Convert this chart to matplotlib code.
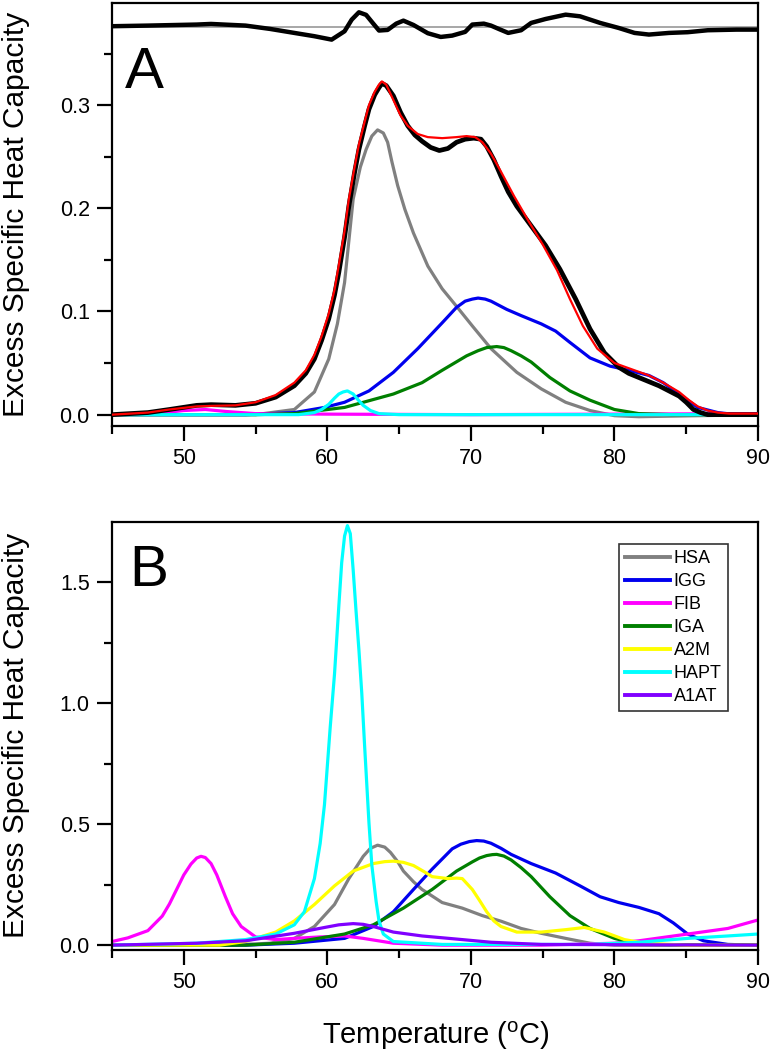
import matplotlib
matplotlib.use("Agg")
import matplotlib.pyplot as plt
from matplotlib.ticker import MultipleLocator

plt.rcParams['font.family'] = ['Liberation Sans', 'DejaVu Sans']
plt.rcParams['mathtext.fontset'] = 'custom'
plt.rcParams['mathtext.rm'] = 'Liberation Sans'

# ---------------- Panel A data ----------------
t_total = [45, 47.5, 49, 50.9, 51.9, 53.6, 55, 56.4, 57.7, 58.5, 59.1, 59.6, 60.1, 60.5, 60.8, 61.2, 61.5,
           61.9, 62.2, 62.6, 62.9, 63.3, 63.6, 63.8, 64.1, 64.6, 65.1, 65.6, 66.1, 66.6, 67.2, 67.8, 68.4,
           69.0, 69.6, 70.2, 70.7, 71.1, 71.6, 72.1, 72.6, 73.2, 74.2, 75.2, 76.2, 77.3, 78.3, 79.3,
           80.3, 81.0, 81.7, 83.1, 84.5, 85.0, 85.5, 86.0, 86.5, 88, 90]
v_total = [0.0, 0.002, 0.005, 0.009, 0.0097, 0.009, 0.011, 0.017, 0.028, 0.040, 0.054, 0.072, 0.093, 0.116,
           0.138, 0.172, 0.202, 0.235, 0.257, 0.280, 0.296, 0.310, 0.317, 0.321, 0.319, 0.309, 0.293,
           0.280, 0.271, 0.265, 0.259, 0.256, 0.258, 0.264, 0.267, 0.268, 0.267, 0.260, 0.247, 0.231,
           0.216, 0.202, 0.183, 0.164, 0.141, 0.112, 0.083, 0.060, 0.046, 0.040, 0.036, 0.028, 0.018,
           0.012, 0.005, 0.002, 0.0, 0.0, 0.0]

t_fit = [45, 47.5, 49, 50.9, 51.9, 53.6, 55, 56.4, 57.7, 58.5, 59.1, 59.6, 60.1, 60.5, 60.8, 61.2, 61.5,
         61.9, 62.2, 62.6, 62.9, 63.3, 63.6, 63.8, 64.1, 64.6, 65.1, 65.6, 66.3, 67.0, 68.0, 69.0,
         69.7, 70.3, 70.8, 71.4, 72.0, 73.0, 74.0, 75.0, 76.0, 76.9, 77.8, 78.8, 80.0, 81.0, 82.4,
         83.4, 84.5, 85.2, 85.8, 86.5, 87.2, 88, 90]
v_fit = [0.0, 0.002, 0.005, 0.008, 0.0085, 0.009, 0.012, 0.019, 0.031, 0.043, 0.058, 0.076, 0.098, 0.121,
         0.145, 0.178, 0.209, 0.240, 0.262, 0.284, 0.300, 0.313, 0.320, 0.323, 0.320, 0.305, 0.290,
         0.280, 0.272, 0.269, 0.268, 0.269, 0.270, 0.269, 0.264, 0.253, 0.238, 0.212, 0.188, 0.165,
         0.140, 0.112, 0.086, 0.064, 0.050, 0.045, 0.038, 0.031, 0.022, 0.014, 0.008, 0.004, 0.002,
         0.001, 0.001]

t_hsa_a = [45, 55, 57.7, 59.1, 60.1, 60.7, 61.2, 61.8, 62.3, 62.7, 63.1, 63.5, 63.9, 64.2, 64.5, 64.9,
           65.4, 66, 66.5, 67, 68, 69, 70.1, 71.4, 73.2, 74.9, 76.6, 78.3, 80, 81.7, 90]
v_hsa_a = [0.0, 0.0, 0.005, 0.022, 0.054, 0.088, 0.128, 0.209, 0.240, 0.257, 0.270, 0.276, 0.273, 0.264,
           0.245, 0.222, 0.199, 0.176, 0.160, 0.144, 0.122, 0.105, 0.086, 0.064, 0.041, 0.025, 0.012,
           0.004, -0.001, -0.002, 0.0]

t_igg_a = [45, 54.3, 57.7, 59.8, 61.2, 62.9, 64.6, 66.3, 68, 69.0, 69.6, 70.1, 70.5, 71.0, 71.4, 72.5,
           73.5, 74.9, 75.9, 76.9, 78.3, 79.7, 81, 82.4, 83.4, 84.5, 85.8, 87.2, 88.5, 90]
v_igg_a = [0.0, 0.0, 0.002, 0.007, 0.012, 0.023, 0.041, 0.064, 0.089, 0.104, 0.110, 0.112, 0.113, 0.112,
           0.110, 0.102, 0.096, 0.088, 0.081, 0.070, 0.055, 0.047, 0.043, 0.038, 0.031, 0.020, 0.007,
           0.002, 0.0, 0.0]

t_fib_a = [45, 48, 50, 51.5, 53, 55, 60, 70, 80, 90]
v_fib_a = [0.0, 0.001, 0.004, 0.005, 0.003, 0.001, 0.0005, 0.0, 0.0005, 0.001]

t_iga_a = [45, 55, 57.7, 61.2, 64.6, 66.6, 68, 69.7, 70.5, 71.1, 71.8, 72.3, 72.8, 73.5, 74.2, 75.5, 76.9,
           78.3, 80, 81.7, 84, 90]
v_iga_a = [0.0, 0.0, 0.001, 0.007, 0.020, 0.031, 0.043, 0.057, 0.062, 0.065, 0.066, 0.065, 0.062, 0.057,
           0.051, 0.036, 0.023, 0.014, 0.005, 0.001, 0.0, 0.0]

t_hapt_a = [45, 58, 59.1, 59.6, 60.1, 60.5, 60.8, 61.1, 61.4, 61.8, 62.1, 62.5, 63.0, 63.6, 65, 90]
v_hapt_a = [0.0, 0.0, 0.002, 0.005, 0.010, 0.016, 0.020, 0.022, 0.023, 0.020, 0.015, 0.009, 0.004, 0.001,
            0.0, 0.0]

t_resid = [45, 47.5, 50.9, 51.9, 54.3, 56, 57.7, 59.1, 60.3, 60.8, 61.2, 61.7, 62.2, 62.7, 63.2, 63.6,
           64.2, 64.8, 65.3, 66, 67, 67.9, 68.7, 69.6, 70.1, 70.9, 71.4, 72.0, 72.6, 73.5, 74.2, 75.2,
           76.6, 77.6, 79, 80.3, 81.4, 82.4, 83.8, 85.1, 86.5, 88.5, 90]
v_resid = [0.3765, 0.3771, 0.3781, 0.3787, 0.3771, 0.3739, 0.3700, 0.3668, 0.3635, 0.3680, 0.3716, 0.3829,
           0.3900, 0.3875, 0.3790, 0.3723, 0.3729, 0.3790, 0.3819, 0.3777, 0.3697, 0.3661, 0.3674,
           0.3710, 0.3781, 0.3790, 0.3771, 0.3735, 0.3700, 0.3726, 0.3797, 0.3835, 0.3877, 0.3861,
           0.3797, 0.3748, 0.3700, 0.3684, 0.3700, 0.3707, 0.3726, 0.3732, 0.3732]
resid_baseline = 0.3755

# ---------------- Panel B data ----------------
labels_b = ['HSA', 'IGG', 'FIB', 'IGA', 'A2M', 'HAPT', 'A1AT']
colors_b = ['#808080', '#0000ee', '#ff00ff', '#007f00', '#ffff00', '#00ffff', '#8000ff']

t_hsa = [45, 53, 56, 57.7, 59.1, 60.5, 61.5, 62.5, 63.0, 63.5, 64.0, 64.4, 64.9, 65.3, 66.0, 66.6, 68,
         69.4, 70.8, 72.1, 73.5, 74.9, 76.6, 78.3, 80, 90]
v_hsa = [0.0, 0.0, 0.008, 0.028, 0.077, 0.168, 0.275, 0.367, 0.400, 0.413, 0.405, 0.383, 0.345, 0.306,
         0.262, 0.230, 0.176, 0.153, 0.122, 0.099, 0.069, 0.049, 0.028, 0.008, 0.0, 0.0]

t_igg = [45, 54.3, 57.7, 61.2, 63.2, 64.6, 66, 67.3, 68.7, 69.3, 69.9, 70.4, 70.9, 71.4, 72.1, 72.8,
         74.2, 75.9, 77.6, 79, 80.3, 81.7, 83.1, 84.1, 85.1, 86.2, 87.9, 90]
v_igg = [0.0, 0.0, 0.008, 0.028, 0.077, 0.138, 0.230, 0.314, 0.398, 0.417, 0.428, 0.432, 0.430, 0.421,
         0.400, 0.375, 0.337, 0.298, 0.245, 0.200, 0.176, 0.156, 0.130, 0.092, 0.046, 0.018, 0.003, 0.0]

t_fib = [45, 46.1, 47.5, 48.5, 49.0, 49.5, 50.0, 50.5, 50.9, 51.2, 51.5, 51.9, 52.3, 52.9, 53.4, 54, 55,
         56.4, 57.7, 59.5, 61.2, 62.5, 64.6, 68, 74.9, 80, 81.7, 85.1, 87.9, 90]
v_fib = [0.015, 0.030, 0.060, 0.120, 0.170, 0.230, 0.290, 0.335, 0.360, 0.367, 0.362, 0.337, 0.290,
         0.200, 0.130, 0.077, 0.034, 0.023, 0.028, 0.034, 0.038, 0.028, 0.008, 0.0, 0.0, 0.008, 0.018,
         0.046, 0.069, 0.104]

t_iga = [45, 54.3, 57.7, 61.2, 63.2, 65.3, 67.3, 69, 70.1, 70.6, 71.1, 71.5, 71.8, 72.3, 72.8, 73.5,
         74.2, 75.5, 76.9, 78.3, 80, 81.7, 90]
v_iga = [0.0, 0.0, 0.012, 0.046, 0.084, 0.153, 0.230, 0.306, 0.344, 0.360, 0.370, 0.374, 0.375, 0.368,
         0.352, 0.320, 0.283, 0.200, 0.122, 0.069, 0.028, 0.003, 0.0]

t_a2m = [45, 52.5, 54.3, 56.4, 57.7, 59.1, 60.5, 61.8, 63.2, 64.0, 64.6, 65.3, 66, 66.7, 67.3, 68.4, 69.0,
         69.4, 70.1, 70.6, 71.1, 71.6, 72.1, 73.2, 74.9, 76.6, 77.9, 79.3, 80.7, 82.1, 85, 90]
v_a2m = [0.0, 0.0, 0.015, 0.054, 0.100, 0.168, 0.245, 0.306, 0.337, 0.345, 0.347, 0.342, 0.329, 0.305,
         0.283, 0.275, 0.277, 0.275, 0.230, 0.185, 0.138, 0.100, 0.077, 0.054, 0.054, 0.064, 0.073,
         0.054, 0.023, 0.008, 0.0, 0.0]

t_hapt = [45, 50.9, 54.3, 56.4, 57.7, 58.4, 59.1, 59.5, 59.8, 60.2, 60.5, 60.8, 61.0, 61.2, 61.4, 61.6,
          61.8, 62.0, 62.2, 62.4, 62.6, 62.9, 63.1, 63.4, 63.6, 63.9, 64.6, 68, 78.3, 81.7, 85.1, 87.9, 90]
v_hapt = [0.0, 0.008, 0.023, 0.046, 0.084, 0.138, 0.275, 0.420, 0.580, 0.900, 1.120, 1.400, 1.580,
          1.690, 1.733, 1.700, 1.550, 1.380, 1.220, 1.040, 0.820, 0.505, 0.330, 0.180, 0.100, 0.046,
          0.015, 0.003, 0.003, 0.012, 0.028, 0.038, 0.046]

t_a1at = [45, 50.9, 54.3, 57.7, 59.8, 60.8, 61.8, 62.5, 63.2, 64.6, 66.6, 69.4, 71.4, 74.9, 90]
v_a1at = [0.0, 0.008, 0.018, 0.049, 0.073, 0.084, 0.089, 0.086, 0.077, 0.054, 0.038, 0.023, 0.012,
          0.003, 0.0]

series_b = [(t_hsa, v_hsa), (t_igg, v_igg), (t_fib, v_fib), (t_iga, v_iga),
            (t_a2m, v_a2m), (t_hapt, v_hapt), (t_a1at, v_a1at)]

# ---------------- Figure ----------------
W, H = 771, 1050
fig = plt.figure(figsize=(W / 100, H / 100), dpi=100)

axA = fig.add_axes([112 / W, 1 - 426 / H, 646 / W, 423 / H])
axB = fig.add_axes([112 / W, 1 - 950 / H, 646 / W, 428 / H])


def style(ax):
    for s in ax.spines.values():
        s.set_linewidth(1.6)
    ax.tick_params(which='both', direction='out', width=1.6, labelsize=15.5, top=False, right=False)
    ax.tick_params(which='major', length=11, pad=5)
    ax.tick_params(which='minor', length=6)
    ax.set_xlim(45, 90)
    ax.xaxis.set_major_locator(MultipleLocator(10))
    ax.xaxis.set_minor_locator(MultipleLocator(5))


# Panel A
style(axA)
axA.axhline(resid_baseline, color='#a0a0a0', lw=1.3, zorder=1)
axA.plot(t_resid, v_resid, color='black', lw=3.2, zorder=2)
axA.plot(t_hsa_a, v_hsa_a, color='#808080', lw=2.3, zorder=3)
axA.plot(t_igg_a, v_igg_a, color='#0000ee', lw=2.3, zorder=3)
axA.plot(t_fib_a, v_fib_a, color='#ff00ff', lw=2.3, zorder=3)
axA.plot(t_iga_a, v_iga_a, color='#007f00', lw=2.3, zorder=3)
axA.plot(t_hapt_a, v_hapt_a, color='#00ffff', lw=2.3, zorder=4)
axA.plot(t_total, v_total, color='black', lw=3.4, zorder=5)
axA.plot(t_fit, v_fit, color='#ff0000', lw=1.6, zorder=6)
axA.set_ylim(-0.011, 0.399)
axA.set_yticks([0.0, 0.1, 0.2, 0.3])
axA.yaxis.set_minor_locator(MultipleLocator(0.05))
axA.yaxis.set_major_formatter(plt.FuncFormatter(lambda v, p: f'{v:.1f}'))
axA.text(0.02, 0.80, 'A', transform=axA.transAxes, fontsize=42, ha='left', va='baseline')

# Panel B
style(axB)
for (t, v), lab, c in zip(series_b, labels_b, colors_b):
    axB.plot(t, v, color=c, lw=2.3, label=lab)
axB.set_ylim(-0.02, 1.748)
axB.set_yticks([0.0, 0.5, 1.0, 1.5])
axB.yaxis.set_minor_locator(MultipleLocator(0.25))
axB.yaxis.set_major_formatter(plt.FuncFormatter(lambda v, p: f'{v:.1f}'))
axB.text(0.026, 0.85, 'B', transform=axB.transAxes, fontsize=42, ha='left', va='baseline')
leg = axB.legend(loc='upper right', bbox_to_anchor=(0.9536, 0.9486), fontsize=13, frameon=True,
                 fancybox=False, edgecolor='black', handlelength=2.5, handletextpad=0.2,
                 labelspacing=0.33, borderpad=0.35, borderaxespad=0.0)
leg.get_frame().set_linewidth(1.2)
for ln in leg.get_lines():
    ln.set_linewidth(2.8)

fig.text(16 / W, 1 - 214 / H, 'Excess Specific Heat Capacity', rotation=90, ha='center', va='center',
         fontsize=21.5)
fig.text(16 / W, 1 - 735 / H, 'Excess Specific Heat Capacity', rotation=90, ha='center', va='center',
         fontsize=21.5)
fig.text(436 / W, 1 - 1044 / H, r'Temperature ($\mathregular{^o}$C)', ha='center', va='baseline', fontsize=21)

fig.savefig('out.png', dpi=100)
